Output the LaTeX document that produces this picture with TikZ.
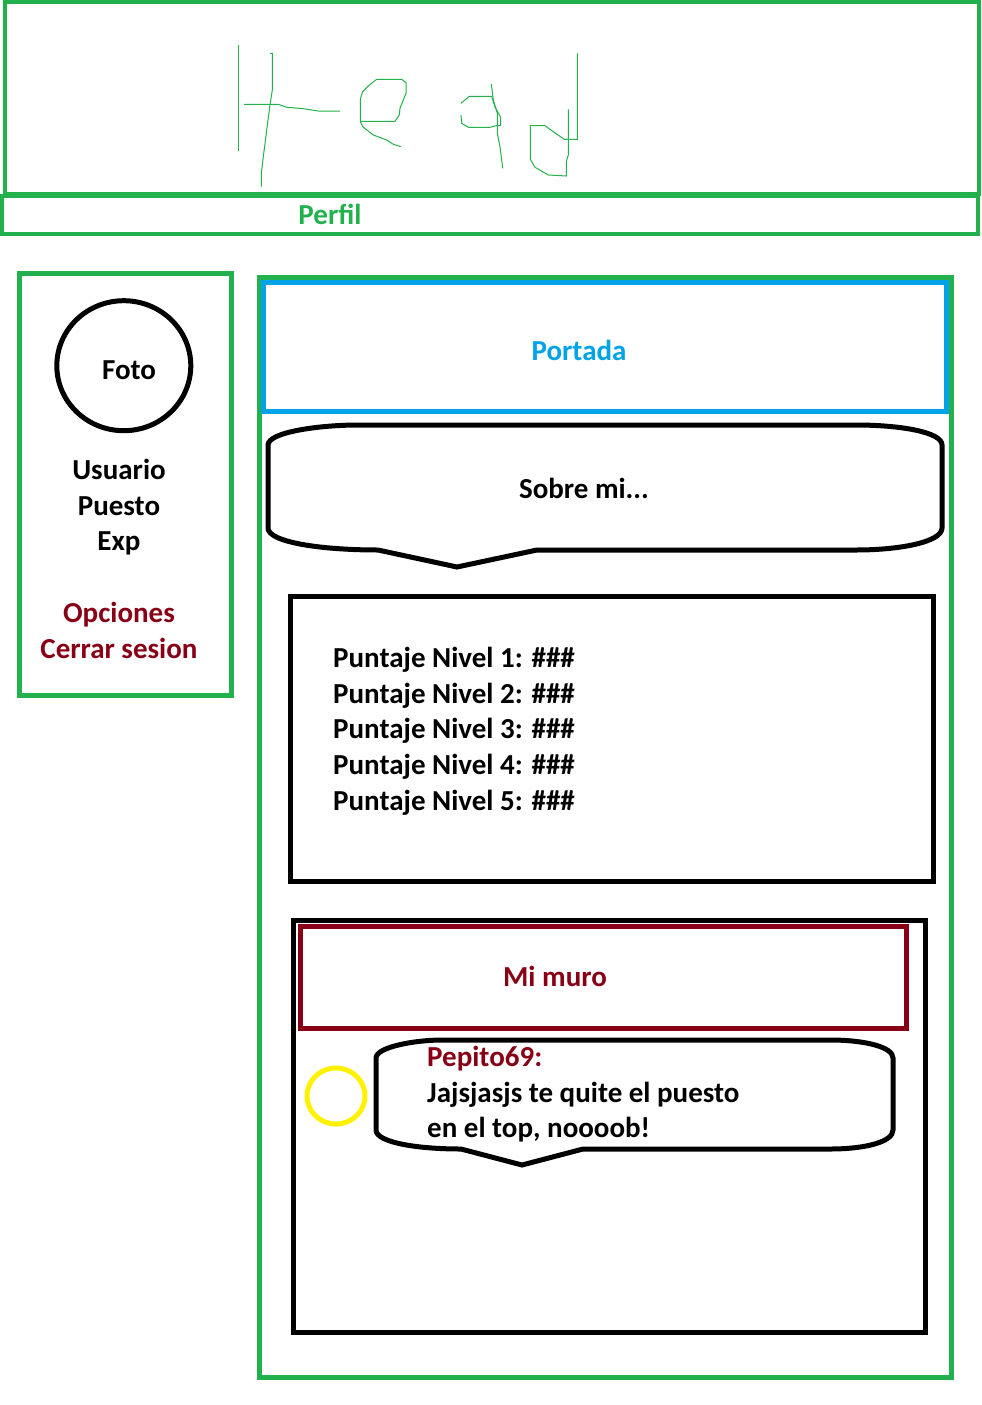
\documentclass[tikz,border=0pt]{standalone}
\usepackage{fontspec}
\setmainfont{Carlito}
\definecolor{paintgreen}{HTML}{22B14C}
\definecolor{paintblue}{HTML}{00A2E8}
\definecolor{paintred}{HTML}{880015}
\definecolor{paintyellow}{HTML}{FFF200}
\tikzset{
    greenbox/.style={draw=paintgreen, line width=5pt},
    blackbox/.style={draw=black, line width=5pt},
    sketch/.style={draw=paintgreen, line width=1pt},
    label/.style={font=\fontsize{29}{33}\selectfont\bfseries, inner sep=0pt, anchor=mid, yshift=-7pt},
    labelleft/.style={label, anchor=mid west}
}
\begin{document}
\begin{tikzpicture}[x=1pt, y=-1pt]
    \useasboundingbox (0,0) rectangle (982,1405);

    % --- cabecera ---
    \draw[greenbox, line width=4pt] (4.5,2) rectangle (979,194);
    \draw[greenbox, line width=4pt] (2,196) rectangle (978,234);
    \node[label, text=paintgreen] (perfil) at (330,215) {Perfil};

    % H
    \draw[sketch] (238.3,45) -- (238.3,150.7);
    \draw[sketch] (270,53.3) -- (272.3,53.3) -- (272.3,90) -- (270,105) -- (266.7,130) -- (263.3,156.7) -- (261.3,173.3) -- (261.3,186.7);
    \draw[sketch] (244,104.3) -- (278.3,104.3) -- (286.7,107.3) -- (303.3,108.7) -- (318.3,111) -- (340,111);
    % e
    \draw[sketch] (360.3,121.3) -- (395,121.3) -- (399.3,115) -- (400,108.3) -- (406,93.3) -- (406,82.7) -- (401.7,79.3) -- (376.7,79.3) -- (368.3,86) -- (362.7,91.7) -- (360.3,99) -- (360.3,121.3) -- (362.7,126.7) -- (373.3,135) -- (386.7,140) -- (393.3,144.3) -- (400.7,146.7);
    % a
    \draw[sketch] (461,103.3) -- (469.3,96.3) -- (491.7,96.3) -- (495,107) -- (500.7,117.3) -- (500.7,125.7) -- (496,125.7) -- (490,127.3) -- (468.3,127.3) -- (461.7,123.3) -- (461,115);
    \draw[sketch] (491.3,84) -- (493.3,100) -- (497.3,113.3) -- (497.3,133.3) -- (500,146.7) -- (502.7,168.3);
    % d
    \draw[sketch] (577.3,53.3) -- (577.3,139.3) -- (564.3,139.3) -- (553.3,131.7) -- (545,125.7) -- (530.3,125.7) -- (530.3,159.3) -- (535,167.3) -- (548.3,175) -- (566.3,176) -- (566.3,161.7) -- (568.3,155) -- (568.3,109.3);

    % --- columna izquierda ---
    \draw[greenbox] (19.5,273.5) rectangle (231.5,695.5);
    \draw[blackbox] (123.8,365.7) ellipse (67 and 65);
    \node[label] (foto) at (129,370) {Foto};
    \node[label] (usuario) at (119,470) {Usuario};
    \node[label] (puesto) at (119,506) {Puesto};
    \node[label] (exp) at (119,541) {Exp};
    \node[label, text=paintred] (opciones) at (119,613) {Opciones};
    \node[label, text=paintred] (cerrar) at (119,649) {Cerrar sesion};

    % --- columna derecha ---
    \draw[greenbox] (259,277.5) rectangle (951.5,1377.5);
    \draw[draw=paintblue, line width=5pt] (263.5,282.5) rectangle (946.5,411.5);
    \node[label, text=paintblue] (portada) at (579,351) {Portada};

    % sobre mi
    \draw[blackbox] (268,445) .. controls (268,432) and (320,425) .. (358,425) -- (856,425) .. controls (900,425) and (942,432) .. (942,445) -- (942,528) .. controls (942,542) and (900,550) .. (856,550) -- (537,550) -- (457,567) -- (378,550) .. controls (320,550) and (268,542) .. (268,528) -- cycle;
    \node[label] (sobre) at (584,489) {Sobre mi...};

    % puntajes
    \draw[blackbox] (290.5,596.5) rectangle (933.5,881.5);
    \foreach \n/\y in {1/658, 2/694, 3/729, 4/765, 5/801} {
        \node[labelleft] (nivel\n) at (333,\y) {Puntaje Nivel \n: \#\#\#};
    }

    % muro
    \draw[blackbox] (293.5,920.5) rectangle (925.5,1332.5);
    \draw[draw=paintred, line width=5pt] (300.5,926.5) rectangle (906.5,1028.5);
    \node[label, text=paintred] (muro) at (555,977) {Mi muro};

    % comentario
    \draw[draw=paintyellow, line width=5pt] (336,1096) ellipse (29 and 28);
    \draw[blackbox] (376,1058) .. controls (376,1047) and (415,1040) .. (442,1040) -- (830,1040) .. controls (865,1040) and (893,1047) .. (893,1058) -- (893,1130) .. controls (893,1142) and (865,1149) .. (830,1149) -- (583,1149) -- (522,1165) -- (461,1149) .. controls (415,1149) and (376,1142) .. (376,1130) -- cycle;
    \node[labelleft, text=paintred] (pepito) at (427,1057) {Pepito69:};
    \node[labelleft] (linea1) at (427,1093) {Jajsjasjs te quite el puesto};
    \node[labelleft] (linea2) at (427,1128) {en el top, noooob!};
\end{tikzpicture}
\end{document}
